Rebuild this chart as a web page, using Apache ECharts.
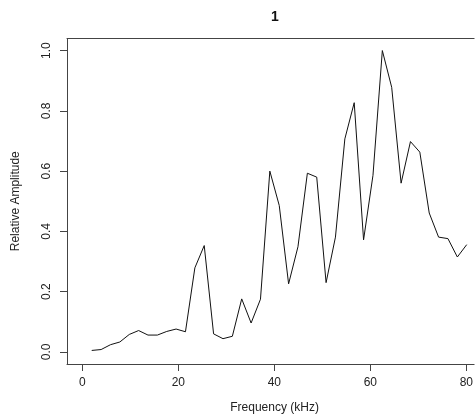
<!DOCTYPE html>
<html>
<head>
<meta charset="utf-8">
<script src="https://cdn.jsdelivr.net/npm/echarts@6/dist/echarts.min.js"></script>
<style>html,body{margin:0;padding:0;background:#fff;}#c{width:476px;height:419px;}</style>
</head>
<body>
<div id="c"></div>
<script>
const frequencies = [1.95, 3.91, 5.86, 7.81, 9.77, 11.72, 13.67, 15.63, 17.58, 19.53, 21.48, 23.44, 25.39, 27.34, 29.30, 31.25, 33.20, 35.16, 37.11, 39.06, 41.02, 42.97, 44.92, 46.88, 48.83, 50.78, 52.73, 54.69, 56.64, 58.59, 60.55, 62.50, 64.45, 66.41, 68.36, 70.31, 72.27, 74.22, 76.17, 78.13, 80.08];
const amplitudes = [0.005, 0.008, 0.024, 0.033, 0.058, 0.071, 0.056, 0.056, 0.068, 0.076, 0.067, 0.279, 0.353, 0.060, 0.044, 0.052, 0.176, 0.096, 0.175, 0.600, 0.486, 0.226, 0.349, 0.593, 0.580, 0.230, 0.381, 0.707, 0.827, 0.372, 0.586, 1.000, 0.878, 0.560, 0.698, 0.663, 0.461, 0.381, 0.376, 0.315, 0.356];
const xTicks = [0, 20, 40, 60, 80];
const yTicks = [0, 0.2, 0.4, 0.6, 0.8, 1.0];
const titleText = '1';
const xName = 'Frequency (kHz)';
const yName = 'Relative Amplitude';

const FONT = '"Liberation Sans", Arial, sans-serif';
const AXC = '#444';
const chart = echarts.init(document.getElementById('c'), null, {renderer: 'canvas'});
chart.setOption({
  animation: false,
  backgroundColor: '#fff',
  title: {
    text: titleText, left: 270, top: 5, textAlign: 'center',
    textStyle: {fontFamily: FONT, fontWeight: 'bold', fontSize: 14, color: '#111'}
  },
  grid: {left: 67, top: 38.5, width: 409, height: 326.5, containLabel: false},
  xAxis: [{
    type: 'value', min: -3.2, max: 81.62, position: 'bottom',
    name: xName, nameLocation: 'middle', nameGap: 38,
    nameTextStyle: {fontFamily: FONT, fontSize: 12, color: '#222', padding: [0, 0, 0, 8]},
    axisLine: {show: true, onZero: false, lineStyle: {color: AXC, width: 1}},
    axisTick: {show: true, inside: false, length: 7, customValues: xTicks, lineStyle: {color: AXC}},
    axisLabel: {customValues: xTicks, margin: 13, fontFamily: FONT, fontSize: 12, color: '#222', showMinLabel: true, showMaxLabel: true},
    splitLine: {show: false}
  }, {
    type: 'value', min: -3.2, max: 81.62, position: 'top',
    axisLine: {show: true, onZero: false, lineStyle: {color: AXC, width: 1}},
    axisTick: {show: false}, axisLabel: {show: false}, splitLine: {show: false}
  }],
  yAxis: [{
    type: 'value', min: -0.04, max: 1.04, position: 'left',
    name: yName, nameLocation: 'middle', nameGap: 45, nameRotate: 90,
    nameTextStyle: {fontFamily: FONT, fontSize: 12, color: '#222'},
    axisLine: {show: true, onZero: false, lineStyle: {color: AXC, width: 1}},
    axisTick: {show: true, inside: false, length: 7, customValues: yTicks, lineStyle: {color: AXC}},
    axisLabel: {customValues: yTicks, rotate: 90, margin: 14, fontFamily: FONT, fontSize: 12, color: '#222',
      formatter: v => Number(v).toFixed(1)},
    splitLine: {show: false}
  }],
  series: [{
    type: 'line',
    data: frequencies.map((f, i) => [f, amplitudes[i]]),
    showSymbol: false, symbol: 'none',
    lineStyle: {color: '#111', width: 1},
    xAxisIndex: 0, yAxisIndex: 0
  }]
});
</script>
</body>
</html>
